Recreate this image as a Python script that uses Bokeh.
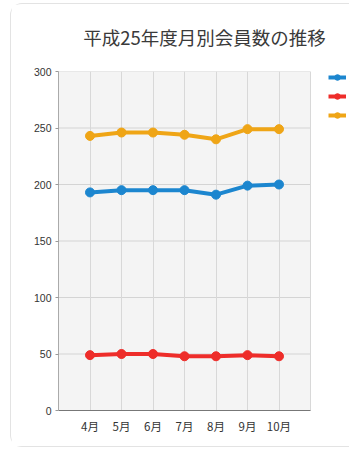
from bokeh.plotting import figure
from bokeh.models import (ColumnDataSource, FixedTicker, BoxAnnotation, Legend,
                          LegendItem, Range1d, Title)
from bokeh.embed import file_html
from bokeh.resources import INLINE

# Monthly membership counts, fiscal Heisei 25
months = ["4月", "5月", "6月", "7月", "8月", "9月", "10月"]
regular = [193, 195, 195, 195, 191, 199, 200]
associate = [49, 50, 50, 48, 48, 49, 48]
total = [243, 246, 246, 244, 240, 249, 249]
series_names = ["正会員", "準会員", "合計"]
y_ticks = [0, 50, 100, 150, 200, 250, 300]

colors = ["#1c86cf", "#ee2d2a", "#efa516"]

n = len(months)
xs = list(range(1, n + 1))
src = ColumnDataSource(dict(x=xs, regular=regular, associate=associate, total=total))

# the data area spans categories 0..n+1; the frame continues to the right
# so the legend key can sit beside it
x_end = (n + 1) * 292 / 252

p = figure(width=339, height=444, output_backend="svg", toolbar_location=None,
           x_range=Range1d(0, x_end), y_range=Range1d(0, 300),
           min_border_left=47, min_border_right=0, min_border_top=66,
           min_border_bottom=38, background_fill_color="white",
           border_fill_color="white", outline_line_color=None,
           styles={"margin-left": "10px", "margin-top": "3px",
                   "border": "1px solid #e3e3e3", "border-right": "none",
                   "border-radius": "12px 0 0 12px"})

p.title = Title(text="平成25年度月別会員数の推移", text_font="Noto Sans CJK JP",
                text_font_size="18.5px", text_font_style="normal",
                text_color="#3a3a3a", align="center", vertical_align="top",
                standoff=39)

# grey plotting area
p.add_layout(BoxAnnotation(left=0, right=n + 1, bottom=0, top=300,
                           fill_color="#f4f4f4", fill_alpha=1, line_color=None,
                           level="image"))

# horizontal grid lines limited to the plotting area
grid_src = ColumnDataSource(dict(y=y_ticks, x0=[0] * len(y_ticks),
                                 x1=[n + 1] * len(y_ticks)))
p.segment("x0", "y", "x1", "y", source=grid_src, line_color="#d4d4d4",
          line_width=1, level="underlay")

items = []
for key, name, c in zip(["regular", "associate", "total"], series_names, colors):
    r1 = p.line("x", key, source=src, line_color=c, line_width=4)
    r2 = p.scatter("x", key, source=src, size=9, fill_color=c, line_color=c)
    items.append(LegendItem(label=name, renderers=[r1, r2]))

legend = Legend(items=items, location=(270, 288), label_text_font_size="10px",
                label_text_font="Noto Sans CJK JP", glyph_width=18, glyph_height=14,
                label_height=14, spacing=4, padding=0, margin=0,
                border_line_color=None, background_fill_alpha=0, label_standoff=4)
p.add_layout(legend, "center")

p.xaxis.ticker = FixedTicker(ticks=xs)
p.xaxis.bounds = (0, n + 1)
p.xaxis.major_label_overrides = {x: m for x, m in zip(xs, months)}
p.xaxis.major_tick_line_color = None
p.xaxis.major_tick_out = 0
p.xaxis.major_tick_in = 0
p.xaxis.minor_tick_line_color = None
p.xaxis.axis_line_color = "#777777"
p.xaxis.major_label_text_font = "Noto Sans CJK JP"
p.xaxis.major_label_text_font_size = "11.5px"
p.xaxis.major_label_text_color = "#333333"
p.xaxis.major_label_standoff = 7

p.yaxis.ticker = FixedTicker(ticks=y_ticks)
p.yaxis.minor_tick_line_color = None
p.yaxis.major_tick_in = 0
p.yaxis.major_tick_out = 3
p.yaxis.major_tick_line_color = "#999999"
p.yaxis.axis_line_color = "#aaaaaa"
p.yaxis.major_label_text_font = "Liberation Sans"
p.yaxis.major_label_text_font_size = "10.5px"
p.yaxis.major_label_text_color = "#333333"
p.yaxis.major_label_standoff = 4

p.xgrid.ticker = FixedTicker(ticks=xs + [n + 1])
p.xgrid.grid_line_color = "#d8d8d8"
p.ygrid.grid_line_color = None

open("out.html", "w").write(file_html(p, INLINE))
